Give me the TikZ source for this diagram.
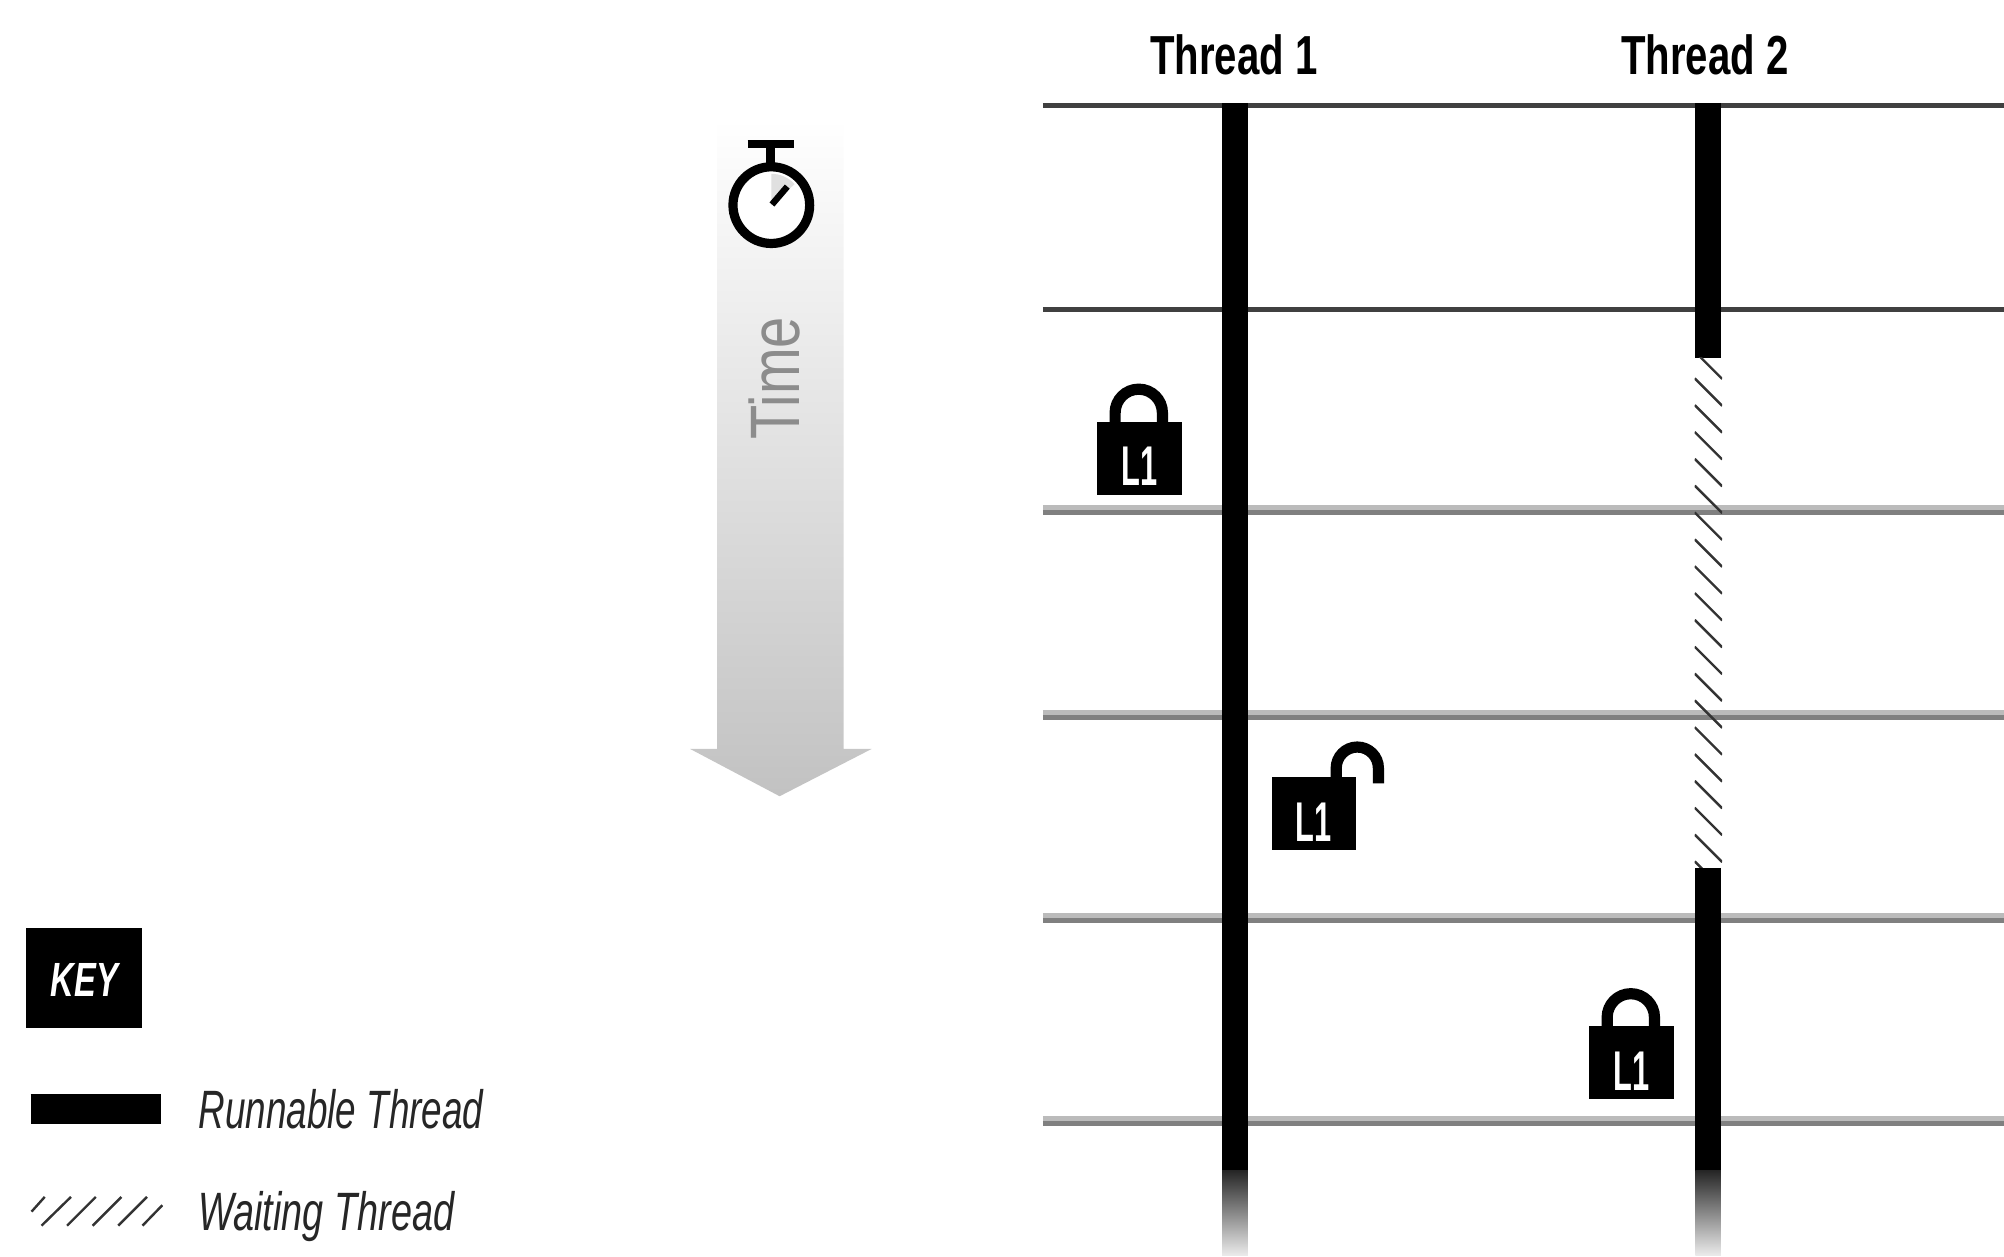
\documentclass[tikz,border=0pt]{standalone}
\usepackage{fontspec}
\setmainfont{Liberation Sans}
\newfontfamily\threadfont[FakeStretch=0.73]{Liberation Sans}
\newfontfamily\lockfont[FakeStretch=0.55]{Liberation Sans}
\newfontfamily\keyfont[FakeStretch=0.68]{Liberation Sans}
\newfontfamily\runfont[FakeStretch=0.683]{Liberation Sans}
\newfontfamily\waitfont[FakeStretch=0.70]{Liberation Sans}
\newfontfamily\timefont[FakeStretch=0.80]{Liberation Sans}
\definecolor{griddark}{HTML}{404040}
\definecolor{gridlight}{HTML}{BBBBBB}
\definecolor{gridmid}{HTML}{808080}
\tikzset{
  gridtop/.style={draw=griddark,line width=2.5pt},
  gridlow/.style={draw=gridmid,line width=2.5pt,
    preaction={draw=gridlight,line width=2.5pt,transform canvas={yshift=2.5pt}}},
  runbar/.style={draw=black,line width=13pt},
  hatchline/.style={draw=black!80,line width=1.2pt},
  threadlabel/.style={font=\threadfont\bfseries\fontsize{27.5}{30}\selectfont,anchor=base,inner sep=0pt},
  legendlabel/.style={text=black!85,anchor=base west,inner sep=0pt},
  locklabel/.style={font=\lockfont\bfseries\fontsize{28}{30}\selectfont,text=white,inner sep=0pt},
  shackle/.style={draw=black,line width=5.6pt},
  closedlock/.pic={
    \draw[shackle] (14.5,-55) -- (14.5,-64) arc[start angle=180,end angle=360,radius=18.5] -- (51.5,-55);
    \fill[black] (0,0) rectangle (67,-57);
    \node[locklabel] (-txt) at (33.5,-22) {L1};
  },
  openlock/.pic={
    \draw[shackle] (50.5,-55) -- (50.5,-64) arc[start angle=180,end angle=360,radius=16.5] -- (83.5,-52);
    \fill[black] (0,0) rectangle (66,-57);
    \node[locklabel] (-txt) at (33,-22) {L1};
  }
}
\begin{document}
\begin{tikzpicture}[x=0.639pt,y=-0.639pt]
\useasboundingbox (0,0) rectangle (1568,982.8);

% horizontal rules
\foreach \n/\yy/\sty in {a/82.5/gridtop,b/242.2/gridtop,c/401/gridlow,d/561/gridlow,e/720/gridlow,f/879/gridlow}{
  \coordinate (l\n) at (816,\yy);
  \coordinate (r\n) at (1568,\yy);
  \draw[\sty] (l\n) -- (r\n);
}

% thread bars
\coordinate (t1top) at (966.3,80.5);
\coordinate (t1end) at (966.3,916);
\coordinate (t2top) at (1336.5,80.5);
\coordinate (t2stop) at (1336.5,280);
\coordinate (t2go) at (1336.5,679);
\coordinate (t2end) at (1336.5,916);
\draw[runbar] (t1top) -- (t1end);
\draw[runbar] (t2top) -- (t2stop);
\draw[runbar] (t2go) -- (t2end);
\shade[top color=black!85,bottom color=black!8] (956.3,916) rectangle (976.3,982);
\shade[top color=black!85,bottom color=black!8] (1326.5,916) rectangle (1346.5,982);

% waiting hatch of thread 2
\begin{scope}
  \clip (1326,280) rectangle (1347.5,679);
  \foreach \yy in {275,296,...,680}{
    \draw[hatchline] (1326,\yy) -- (1347.5,\yy+21.5);
  }
\end{scope}

% thread labels
\node[threadlabel] (thread1) at (965.5,58) {Thread 1};
\node[threadlabel] (thread2) at (1334,58) {Thread 2};

% locks
\pic (lockA) at (858,387) {closedlock};
\pic (lockB) at (995,665) {openlock};
\pic (lockC) at (1243,860) {closedlock};

% time arrow
\shade[top color=white,bottom color=black!24]
  (561,93) -- (660,93) -- (660,586) -- (682,586) -- (610,623) -- (540,586) -- (561,586) -- cycle;
\node[font=\timefont\fontsize{35}{38}\selectfont,text=black!45,rotate=90,inner sep=0pt] (time) at (606,296) {Time};

% stopwatch
\draw[black,line width=4pt] (585,112.5) -- (621,112.5);
\draw[black,line width=4.5pt] (603,112.5) -- (603,130);
\draw[black,line width=4.6pt,fill=white] (603.5,160.5) circle[radius=30];
\fill[black!12] (603.5,160.5) -- (603.5,136) arc[start angle=-90,end angle=-42,radius=24.5] -- cycle;
\draw[black,line width=3.2pt] (604,160) -- (616,146);

% key
\fill[black] (20.5,726) rectangle (111,804);
\node[font=\keyfont\bfseries\itshape\fontsize{24}{26}\selectfont,text=white,inner sep=0pt] (key) at (66,767) {KEY};
\coordinate (runA) at (24,868);
\coordinate (runB) at (126,868);
\draw[draw=black,line width=15pt] (runA) -- (runB);
\node[legendlabel,font=\runfont\itshape\fontsize{27}{30}\selectfont] (runlabel) at (155,883) {Runnable Thread};
\foreach \xa/\ya/\xb/\yb in {24.7/948/35/936.5,32.5/959/55.5/936.5,52.5/959/75/936.5,72.5/959/95/936.5,92.5/959/115/936.5,111.5/959/127/943}{
  \draw[hatchline] (\xa,\ya) -- (\xb,\yb);
}
\node[legendlabel,font=\waitfont\itshape\fontsize{27}{30}\selectfont] (waitlabel) at (155,963) {Waiting Thread};
\end{tikzpicture}
\end{document}
